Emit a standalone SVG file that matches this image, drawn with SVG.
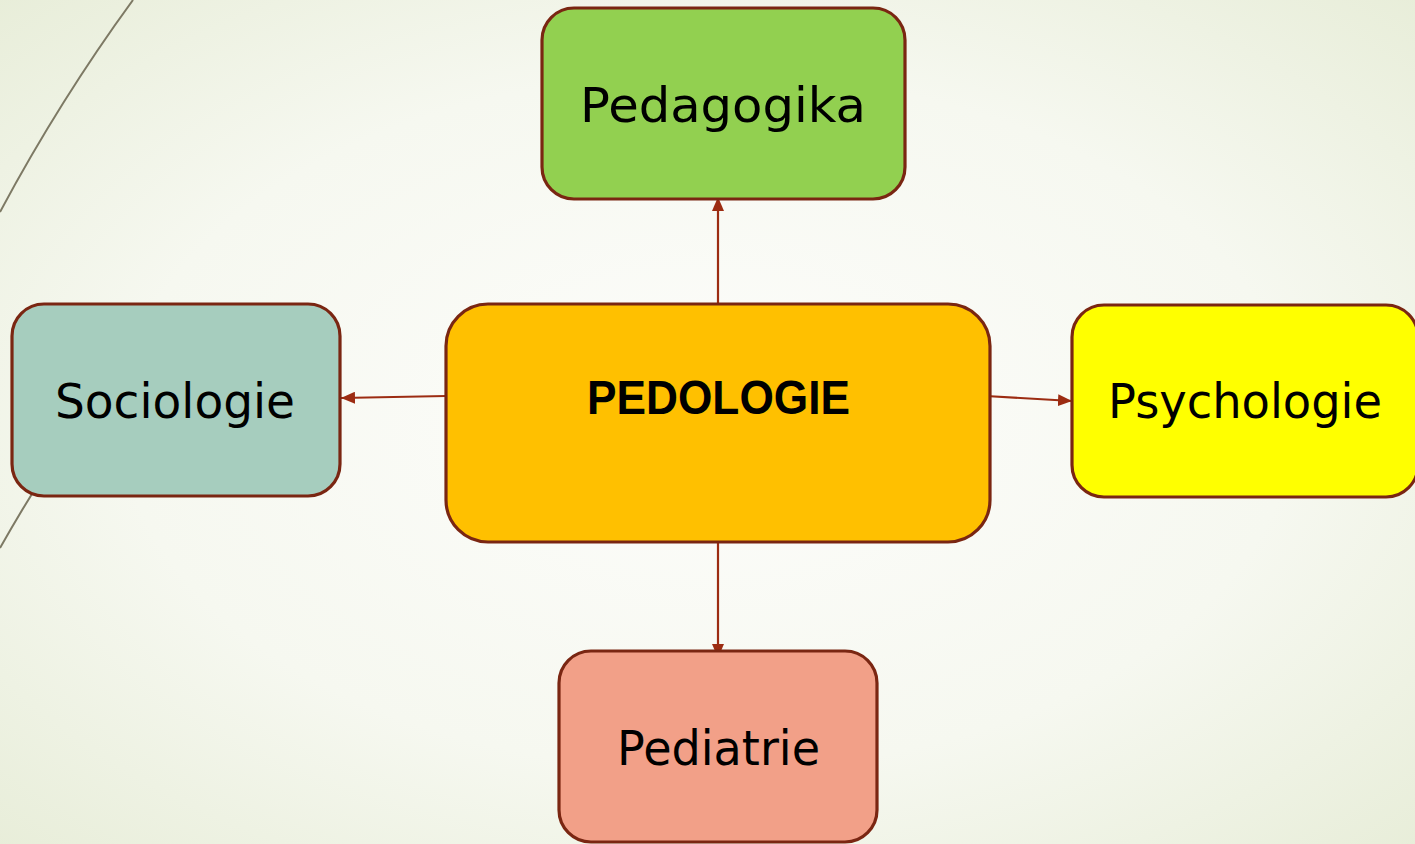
<svg xmlns="http://www.w3.org/2000/svg" width="1415" height="844" viewBox="0 0 1415 844">
<defs>
<radialGradient id="bg" cx="0.5" cy="0.5" r="0.75">
<stop offset="0" stop-color="#FDFDFB"/>
<stop offset="0.55" stop-color="#F6F8F0"/>
<stop offset="1" stop-color="#E6ECD6"/>
</radialGradient>
<marker id="ah" viewBox="0 0 14 12" refX="14" refY="6" markerWidth="14" markerHeight="12" markerUnits="userSpaceOnUse" orient="auto">
<path d="M0,0 L14,6 L0,12 Z" fill="#9C2C12"/>
</marker>
<style>
.box{stroke:#7A2612;stroke-width:3.2}
.lbl{font-family:"DejaVu Sans","Liberation Sans",sans-serif;font-size:48px;fill:#000;text-anchor:middle}
.ttl{font-family:"Liberation Sans","DejaVu Sans",sans-serif;font-size:49px;font-weight:bold;fill:#000;text-anchor:middle}
.con{stroke:#9C2C12;stroke-width:2.2;fill:none;marker-end:url(#ah)}
.deco{stroke:#7D7964;stroke-width:2;fill:none}
</style>
</defs>
<rect x="0" y="0" width="1415" height="844" fill="url(#bg)"/>
<g id="decoration">
<path class="deco" d="M133,0 Q60,100 0,212"/>
<path class="deco" d="M60,450 Q30,495 0,548"/>
</g>
<g id="connectors">
<line class="con" x1="718" y1="303" x2="718" y2="197"/>
<line class="con" x1="718" y1="543" x2="718" y2="658"/>
<line class="con" x1="446" y1="396" x2="341" y2="398"/>
<line class="con" x1="986" y1="396" x2="1072" y2="401"/>
</g>
<g id="pedologie">
<rect class="box" x="446" y="304" width="544" height="238" rx="42" fill="#FFC000"/>
<text class="ttl" x="718.5" y="414" textLength="263" lengthAdjust="spacingAndGlyphs">PEDOLOGIE</text>
</g>
<g id="pedagogika">
<rect class="box" x="542" y="8" width="363" height="191" rx="32" fill="#92D050"/>
<text class="lbl" x="723" y="122" textLength="286" lengthAdjust="spacingAndGlyphs">Pedagogika</text>
</g>
<g id="sociologie">
<rect class="box" x="12" y="304" width="328" height="192" rx="32" fill="#A6CDBE"/>
<text class="lbl" x="175" y="418" textLength="240" lengthAdjust="spacingAndGlyphs">Sociologie</text>
</g>
<g id="psychologie">
<rect class="box" x="1072" y="305" width="346" height="192" rx="32" fill="#FFFF00"/>
<text class="lbl" x="1245" y="418" textLength="274" lengthAdjust="spacingAndGlyphs">Psychologie</text>
</g>
<g id="pediatrie">
<rect class="box" x="559" y="651" width="318" height="191" rx="32" fill="#F2A088"/>
<text class="lbl" x="718.5" y="765" textLength="203" lengthAdjust="spacingAndGlyphs">Pediatrie</text>
</g>
</svg>
